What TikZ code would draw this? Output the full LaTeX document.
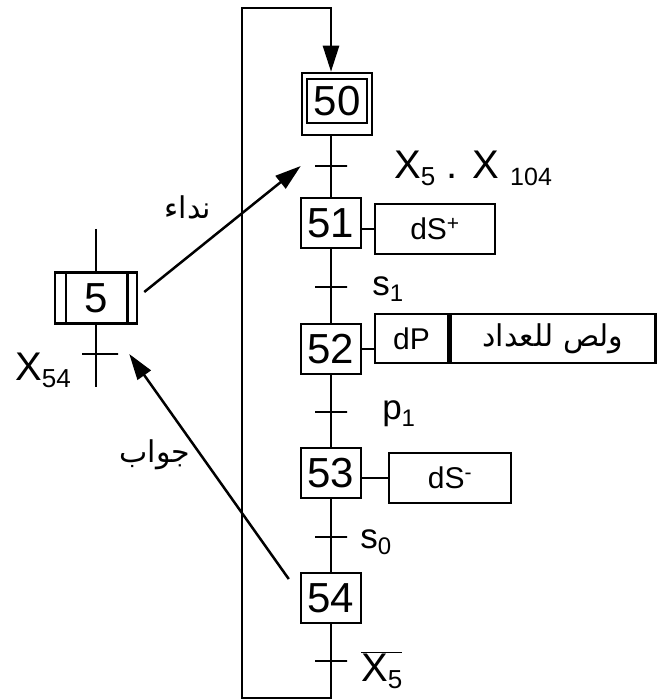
\documentclass[tikz,border=0pt]{standalone}
\usepackage{fontspec}
\setmainfont{Liberation Sans}
\newfontfamily\arabicfont[Script=Arabic]{DejaVu Sans}
\TeXXeTstate=1
\usetikzlibrary{arrows.meta}

\newcommand\lowidx[2]{\raisebox{-0.18em}{\fontsize{#1}{#1}\selectfont #2}}

\begin{document}
\begin{tikzpicture}[x=1pt,y=-1pt,line width=2.5pt,
    arr/.style={-{Triangle[length=26pt,width=16pt]}},
    lbl/.style={inner sep=0pt,anchor=west,font=\fontsize{40}{40}\selectfont},
    arlbl/.style={inner sep=0pt,font=\fontsize{30}{30}\selectfont\arabicfont}]

  \useasboundingbox (0,0) rectangle (664,700);

  % steps
  \begin{scope}[every node/.style={draw,inner sep=0pt,minimum width=60pt,minimum height=50pt,
      font=\fontsize{42}{42}\selectfont}]
    \node[minimum width=70pt,minimum height=62pt] (s50) at (337,104) {};
    \node[minimum width=60pt,minimum height=44pt] (s50i) at (337,101) {50};
    \node (s51) at (331,223) {51};
    \node (s52) at (331,349) {52};
    \node (s53) at (331,473) {53};
    \node (s54) at (331,598) {54};
    \node[minimum width=82pt,minimum height=51pt] (s5) at (96,298) {5};
  \end{scope}
  \draw ([xshift=12pt]s5.north west) -- ([xshift=12pt]s5.south west);
  \draw ([xshift=-11pt]s5.north east) -- ([xshift=-11pt]s5.south east);

  % actions
  \begin{scope}[every node/.style={draw,inner sep=0pt,minimum height=50pt,
      font=\fontsize{30}{30}\selectfont}]
    \node[minimum width=120pt] (a51) at (435,229) {dS\textsuperscript{+}};
    \node[minimum width=73pt,minimum height=49pt] (a52) at (411.5,338.5) {dP};
    \node[minimum width=205pt,minimum height=49pt,anchor=west,font=\fontsize{30}{30}\selectfont\arabicfont]
      (a52b) at (a52.east) {\beginR ولص للعداد\endR};
    \node[minimum width=122pt] (a53) at (450,478) {dS\textsuperscript{-}};
  \end{scope}
  \draw (a51.west -| s51.east) -- (a51.west);
  \draw (s52.east) -- (s52.east -| a52.west);
  \draw (a53.west -| s53.east) -- (a53.west);

  % transitions
  \begin{scope}[every node/.style={draw,inner sep=0pt,minimum width=32pt,minimum height=0pt}]
    \node (t1) at (331,166) {};
    \node (t2) at (331,287) {};
    \node (t3) at (331,412) {};
    \node (t4) at (331,537) {};
    \node (t5) at (331,661) {};
    \node[minimum width=36pt] (t6) at (100,354) {};
  \end{scope}

  % receptivities
  \node[lbl] at (393,168) {X\lowidx{26}{5} . X \lowidx{25}{104}};
  \node[lbl,font=\fontsize{35}{35}\selectfont] at (371,289) {s\lowidx{24}{1}};
  \node[lbl,font=\fontsize{35}{35}\selectfont] at (381,414) {p\lowidx{24}{1}};
  \node[lbl,font=\fontsize{35}{35}\selectfont] at (359,542) {s\lowidx{24}{0}};
  \node[lbl] at (360,670) {$\overline{\mbox{X\lowidx{26}{5}}}$};
  \node[lbl] at (14,370) {X\lowidx{26}{54}};

  % sequence lines
  \draw (s50.south -| t1) -- (s51);
  \draw (s51) -- (s52);
  \draw (s52) -- (s53);
  \draw (s53) -- (s54);
  \coordinate (br) at (331,698);
  \coordinate (bl) at (242,698);
  \coordinate (tl) at (242,8);
  \coordinate (tr) at (331,8);
  \draw[arr] (s54) -- (br) -- (bl) -- (tl) -- (tr) -- (s50.north -| tr);
  \draw (96,229) -- (s5) -- (96,387);

  % calls
  \draw[arr] ([shift={(6,-6)}]s5.east) -- ([xshift=-13pt]t1.west);
  \draw[arr] ([shift={(-11,-19)}]s54.west) -- ([xshift=10pt]t6.east);
  \node[arlbl] (call) at (188,207) {\beginR نداء\endR};
  \node[arlbl] (answer) at (155,455) {\beginR جواب\endR};

\end{tikzpicture}
\end{document}
